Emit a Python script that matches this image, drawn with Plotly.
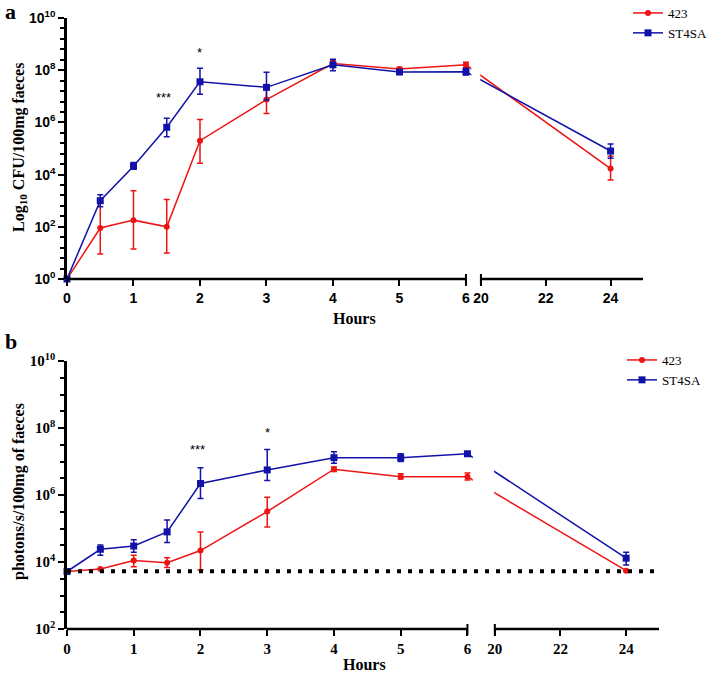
import numpy as np
import plotly.graph_objects as go

# sampling times (hours)
hours = [0, 0.5, 1, 1.5, 2, 3, 4, 5, 6, 24]

# panel a: CFU / 100 mg faeces (mean, upper and lower error limits)
a_423 = [1, 9e1, 1.8e2, 1.0e2, 2.0e5, 7.5e6, 1.8e8, 1.1e8, 1.6e8, 1.7e4]
a_423_hi = [1, 8e2, 2.4e3, 1.1e3, 1.3e6, 2.5e7, 2.3e8, 1.3e8, 2.0e8, 5e4]
a_423_lo = [1, 9e0, 1.4e1, 1.0e1, 2.7e4, 2.2e6, 1.4e8, 9e7, 1.3e8, 6.2e3]
a_st = [1, 1.0e3, 2.1e4, 6.5e5, 3.6e7, 2.2e7, 1.6e8, 8.5e7, 8.7e7, 8e4]
a_st_hi = [1, 1.7e3, 2.9e4, 1.45e6, 1.2e8, 8.3e7, 2.6e8, 1.0e8, 1.2e8, 1.5e5]
a_st_lo = [1, 5.9e2, 1.6e4, 2.8e5, 1.2e7, 7.2e6, 9.5e7, 7.2e7, 6.5e7, 4.2e4]

# panel b: photons/s/100 mg faeces
b_423 = [5.2e3, 6.2e3, 1.1e4, 9.5e3, 2.2e4, 3.2e5, 5.9e6, 3.5e6, 3.5e6, 5.5e3]
b_423_hi = [5.2e3, 6.2e3, 1.6e4, 1.35e4, 7.9e4, 8.5e5, 6.8e6, 4.3e6, 4.5e6, 5.5e3]
b_423_lo = [5.2e3, 6.2e3, 7.2e3, 6.9e3, 5.8e3, 1.1e5, 5.0e6, 3.0e6, 2.8e6, 5.5e3]
b_st = [5.2e3, 2.4e4, 3.0e4, 7.9e4, 2.2e6, 5.6e6, 1.3e7, 1.3e7, 1.7e7, 1.3e4]
b_st_hi = [5.2e3, 3.2e4, 4.6e4, 1.8e5, 6.5e6, 2.3e7, 1.95e7, 1.7e7, 1.7e7, 1.95e4]
b_st_lo = [5.2e3, 1.6e4, 1.95e4, 3.8e4, 7.9e5, 2.7e6, 8.9e6, 1.0e7, 1.7e7, 8.1e3]
b_limit = 5.3e3

# significance marks: (hour, height, text)
a_stars = [(1.45, 9.3e6, '***'), (2, 4.6e8, '*')]
b_stars = [(1.95, 2.3e7, '***'), (3, 7.1e7, '*')]

x_ticks = [0, 1, 2, 3, 4, 5, 6, 20, 22, 24]
tick_labels = ['0', '1', '2', '3', '4', '5', '6', '20', '22', '24']

RED = '#ee1414'
BLUE = '#1212a8'
SERIF = 'Liberation Serif'
SANS = 'Liberation Sans'


def brk(h, gap, k):
    """broken x axis: 0-6 h at full scale, 20-25 h compressed"""
    h = np.asarray(h, dtype=float)
    return np.where(h <= 6, h, 6 + gap + (h - 20) * k)


panels = [
    dict(xa='x', ya='y', gap=0.225, k=0.4875, leg='legend',
         red=(a_423, a_423_hi, a_423_lo), blue=(a_st, a_st_hi, a_st_lo)),
    dict(xa='x2', ya='y2', gap=0.41, k=0.492, leg='legend2',
         red=(b_423, b_423_hi, b_423_lo), blue=(b_st, b_st_hi, b_st_lo)),
]

fig = go.Figure()
shapes = []

for p in panels:
    xs = brk(hours, p['gap'], p['k'])
    for name, col, sym, size, (m, hi, lo) in [
            ('423', RED, 'circle', 6, p['red']),
            ('ST4SA', BLUE, 'square', 7, p['blue'])]:
        m, hi, lo = np.array(m), np.array(hi), np.array(lo)
        fig.add_trace(go.Scatter(
            x=xs, y=m, name=name, mode='lines+markers',
            line=dict(color=col, width=1.5),
            marker=dict(color=col, symbol=sym, size=size),
            error_y=dict(type='data', symmetric=False, array=hi - m,
                         arrayminus=m - lo, color=col, thickness=1.5, width=3),
            xaxis=p['xa'], yaxis=p['ya'], legend=p['leg'], cliponaxis=False))

    ax = p['xa']
    ydom = p['ya'] + ' domain'
    x6, x20, x25 = brk([6, 20, 25], p['gap'], p['k'])
    # hide the connecting lines inside the axis break
    shapes.append(dict(type='rect', xref=ax, yref=ydom, x0=6.08, x1=x20 - 0.01,
                       y0=0.01, y1=1, fillcolor='white', line_width=0, layer='above'))
    # broken bottom axis
    for x0, x1 in [(0, x6), (x20, x25)]:
        shapes.append(dict(type='line', xref=ax, yref=ydom, x0=x0, x1=x1, y0=0, y1=0,
                           line=dict(color='black', width=2.5), layer='above'))
    for xc in [x6, x20]:
        shapes.append(dict(type='line', xref=ax, yref=ydom, x0=xc, x1=xc,
                           ysizemode='pixel', yanchor=0, y0=-6, y1=5,
                           line=dict(color='black', width=2), layer='above'))

# detection limit (panel b)
x25b = float(brk([25], 0.41, 0.492)[0])
shapes.append(dict(type='line', xref='x2', yref='y2', x0=0, x1=x25b, y0=b_limit, y1=b_limit,
                   line=dict(color='black', width=4, dash='4px,7px'), layer='above'))

annotations = []
for stars, ax, ya, gap, k in [(a_stars, 'x', 'y', 0.225, 0.4875), (b_stars, 'x2', 'y2', 0.41, 0.492)]:
    for h, v, t in stars:
        annotations.append(dict(x=float(brk([h], gap, k)[0]), y=np.log10(v), xref=ax, yref=ya,
                                text=t, showarrow=False, font=dict(family=SANS, size=13, color='black')))

label_font = dict(family=SERIF, size=16, color='black', weight='bold')
letter_font = dict(family=SERIF, size=22, color='black', weight='bold')
annotations += [
    dict(x=3 / 708, y=1 + 3 / 673, text='a', xanchor='left', yanchor='top', font=letter_font),
    dict(x=3 / 708, y=1 - 327 / 673, text='b', xanchor='left', yanchor='top', font=letter_font),
    dict(x=19 / 708, y=1 - 148 / 673, text='Log<sub>10</sub> CFU/100mg faeces',
         textangle=-90, xanchor='center', yanchor='middle', font=label_font),
    dict(x=19 / 708, y=1 - 492 / 673, text='photons/s/100mg of faeces',
         textangle=-90, xanchor='center', yanchor='middle', font=label_font),
    dict(x=355 / 708, y=1 - 318 / 673, text='Hours', xanchor='center', yanchor='middle',
         font=label_font),
    dict(x=364 / 708, y=1 - 664 / 673, text='Hours', xanchor='center', yanchor='middle',
         font=label_font),
]
for an in annotations[-6:]:
    an.update(xref='paper', yref='paper', showarrow=False)

xa_common = dict(showgrid=False, zeroline=False, showline=False, ticks='outside',
                 ticklen=6, tickwidth=2, tickcolor='black')
ya_common = dict(type='log', showgrid=False, zeroline=False, showline=True, linecolor='black',
                 linewidth=2.5, ticks='outside', ticklen=6, tickwidth=2, tickcolor='black')

a_yvals = [10.0 ** e for e in range(0, 11, 2)]
b_yvals = [10.0 ** e for e in range(2, 11, 2)]

fig.update_layout(
    width=708, height=673, margin=dict(l=0, r=0, t=0, b=0, autoexpand=False),
    paper_bgcolor='white', plot_bgcolor='white',
    xaxis=dict(**xa_common, tickvals=list(brk(x_ticks, 0.225, 0.4875)),
               ticktext=tick_labels, range=[0, float(brk([25], 0.225, 0.4875)[0])],
               domain=[67 / 708, 643 / 708], anchor='y',
               tickfont=dict(family=SANS, size=14, color='black', weight='bold')),
    yaxis=dict(**ya_common, range=[0, 10], domain=[1 - 279 / 673, 1 - 18 / 673], anchor='x',
               tickvals=a_yvals, ticktext=['10<sup>%d</sup>' % e for e in range(0, 11, 2)],
               tickfont=dict(family=SANS, size=14, color='black', weight='bold'),
               minor=dict(tick0=0, dtick=0.4, ticks='outside', ticklen=4, tickwidth=1.5,
                          tickcolor='black')),
    xaxis2=dict(**xa_common, tickvals=list(brk(x_ticks, 0.41, 0.492)),
                ticktext=tick_labels, range=[0, x25b],
                domain=[67 / 708, 659 / 708], anchor='y2',
                tickfont=dict(family=SERIF, size=15, color='black', weight='bold')),
    yaxis2=dict(**ya_common, range=[2, 10], domain=[1 - 629 / 673, 1 - 361 / 673], anchor='x2',
                tickvals=b_yvals, ticktext=['10<sup>%d</sup>' % e for e in range(2, 11, 2)],
                tickfont=dict(family=SERIF, size=15, color='black', weight='bold'),
                minor=dict(tick0=0, dtick=0.5, ticks='outside', ticklen=4, tickwidth=1.5,
                           tickcolor='black')),
    legend=dict(x=628 / 708, y=1 + 2 / 673, xanchor='left', yanchor='top', itemwidth=30,
                font=dict(family=SERIF, size=13, color='black'), bgcolor='rgba(0,0,0,0)',
                tracegroupgap=0),
    legend2=dict(x=622 / 708, y=1 - 345 / 673, xanchor='left', yanchor='top', itemwidth=30,
                 font=dict(family=SERIF, size=13, color='black'), bgcolor='rgba(0,0,0,0)',
                 tracegroupgap=0),
    shapes=shapes,
    annotations=annotations,
    showlegend=True,
)

# the page's default body margin would shift the figure by 8px
fig.write_html("out.html", config={'displayModeBar': False},
               post_script="document.body.style.margin='0px';")
